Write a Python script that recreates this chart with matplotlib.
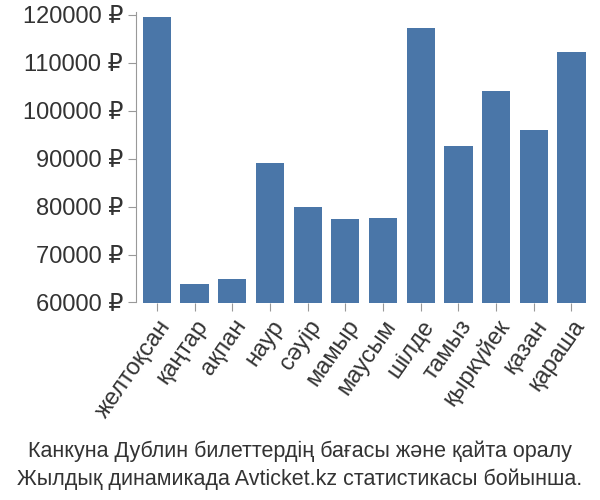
import matplotlib
matplotlib.use("Agg")
import matplotlib.pyplot as plt

months = ["желтоқсан","қаңтар","ақпан","наур","сәуір","мамыр","маусым","шілде","тамыз","қыркүйек","қазан","қараша"]
prices = [119500,63900,65000,89100,80000,77400,77600,117200,92700,104100,96000,112200]
yticks = [60000,70000,80000,90000,100000,110000,120000]

plt.rcParams['font.family'] = ['Liberation Sans','DejaVu Sans']
fig = plt.figure(figsize=(6,5), dpi=100)
ax = fig.add_axes([0.227, 0.395, 0.76, 0.58])
ax.bar(range(len(months)), prices, width=0.75, color="#4a76a8")
ax.set_ylim(60000, 120500)
ax.set_xlim(-0.55, len(months)-0.45)
ax.set_yticks(yticks)
ax.set_yticklabels([f"{v} ₽" for v in yticks], fontsize=17, color="#333333")
ax.set_xticks(range(len(months)))
ax.set_xticklabels(months, rotation=55, ha="right", rotation_mode="anchor", fontsize=17, color="#333333")
for s in ["top","right","bottom"]:
    ax.spines[s].set_visible(False)
ax.spines["left"].set_color("#999999")
ax.tick_params(axis="both", length=6, color="#999999")
fig.text(0.5, 0.085, "Канкуна Дублин билеттердің бағасы және қайта оралу", ha="center", fontsize=15.5, color="#333333")
fig.text(0.5, 0.03, "Жылдық динамикада Avticket.kz статистикасы бойынша.", ha="center", fontsize=15.5, color="#333333")
fig.savefig("out.png", dpi=100)
